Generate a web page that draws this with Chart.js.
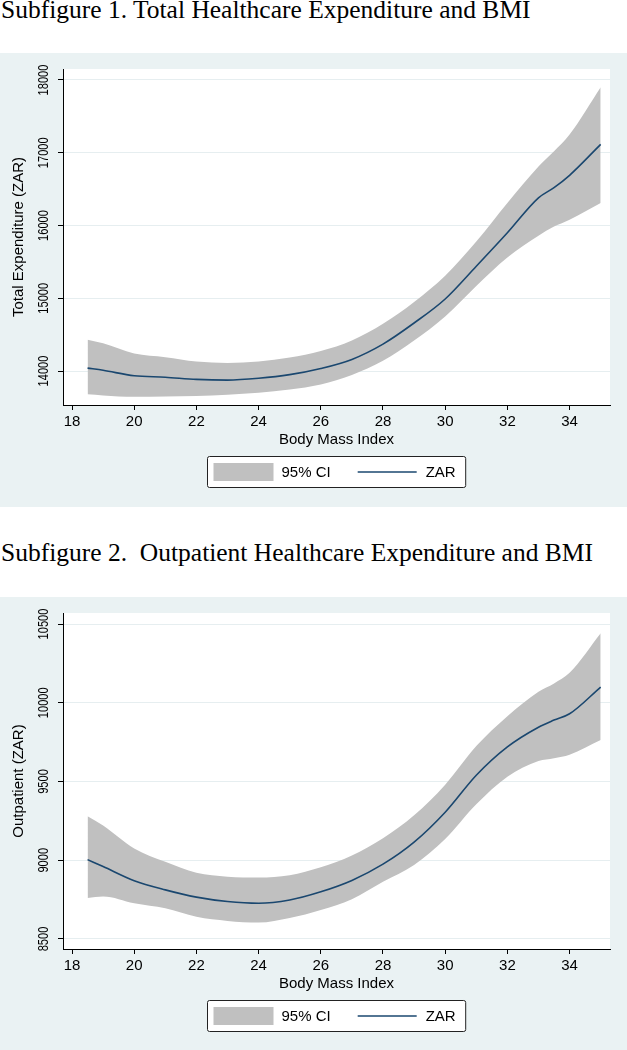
<!DOCTYPE html>
<html>
<head>
<meta charset="utf-8">
<script src="https://cdn.jsdelivr.net/npm/chart.js@4.4.1/dist/chart.umd.min.js"></script>
<style>
body { margin: 0; background: #fff; width: 627px; height: 1050px; position: relative; overflow: hidden; }
.cap { position: absolute; left: 1px; font-family: "Liberation Serif", "Times New Roman", serif; font-size: 25.5px; line-height: 25px; white-space: pre; color: #000; }
.panel { position: absolute; left: 0; width: 627px; background: #eaf2f3; }
canvas { display: block; }
</style>
</head>
<body>
<div class="cap" style="top:-3px">Subfigure 1. Total Healthcare Expenditure and BMI</div>
<div class="panel" style="top:53px;height:454px"><canvas id="g_total" width="627" height="454"></canvas></div>
<div class="cap" style="top:540px">Subfigure 2.  Outpatient Healthcare Expenditure and BMI</div>
<div class="panel" style="top:597px;height:453px"><canvas id="g_outpatient" width="627" height="453"></canvas></div>
<script>
// body mass index grid
const bmi = [18.5, 19, 20, 21, 22, 23, 24, 25, 26, 27, 28, 29, 30, 31, 32, 33, 33.5, 34, 35];

// subfigure 1: total expenditure
const totalZar   = [14040, 14010, 13935, 13915, 13885, 13875, 13900, 13950, 14035, 14160, 14370, 14660, 14990, 15440, 15900, 16380, 16520, 16690, 17115];
const totalLower = [13680, 13665, 13645, 13650, 13655, 13675, 13700, 13745, 13815, 13945, 14140, 14420, 14750, 15170, 15560, 15860, 15985, 16080, 16310];
const totalUpper = [14430, 14380, 14240, 14190, 14130, 14110, 14130, 14185, 14275, 14420, 14650, 14950, 15310, 15780, 16310, 16810, 17020, 17250, 17900];

// subfigure 2: outpatient expenditure
const outZar   = [9004, 8960, 8870, 8812, 8766, 8738, 8727, 8748, 8800, 8872, 8975, 9115, 9305, 9540, 9720, 9845, 9890, 9930, 10100];
const outLower = [8760, 8770, 8727, 8695, 8641, 8615, 8604, 8633, 8684, 8753, 8864, 8970, 9135, 9355, 9530, 9630, 9648, 9670, 9763];
const outUpper = [9280, 9220, 9075, 8990, 8920, 8895, 8890, 8905, 8955, 9030, 9140, 9285, 9480, 9725, 9915, 10070, 10123, 10190, 10441];

const xTicks = [18, 20, 22, 24, 26, 28, 30, 32, 34];
const totalTicks = [14000, 15000, 16000, 17000, 18000];
const outTicks = [8500, 9000, 9500, 10000, 10500];
const legendLabels = ['95% CI', 'ZAR'];

const lineColor = '#1a476f';
const bandColor = '#c0c0c0';
const sans = '"Liberation Sans", Arial, sans-serif';

Chart.defaults.font.family = sans;
Chart.defaults.font.size = 15;
Chart.defaults.color = '#000';

// white plot region
const plotBg = {
    id: 'plotBg',
    beforeDraw(chart) {
        const a = chart.chartArea, ctx = chart.ctx;
        ctx.save();
        ctx.fillStyle = '#fff';
        ctx.fillRect(a.left, a.top, a.right - a.left, a.bottom - a.top);
        ctx.restore();
    }
};

// vertical y tick labels, stata style
const yLabels = {
    id: 'yLabels',
    afterDraw(chart) {
        const s = chart.scales.y, ctx = chart.ctx;
        ctx.save();
        ctx.font = '15px ' + sans;
        ctx.fillStyle = '#000';
        ctx.textAlign = 'center';
        ctx.textBaseline = 'middle';
        s.ticks.forEach(t => {
            ctx.save();
            ctx.translate(44, s.getPixelForValue(t.value));
            ctx.rotate(-Math.PI / 2);
            ctx.scale(0.74, 1);
            ctx.fillText(String(t.value), 0, 0);
            ctx.restore();
        });
        ctx.restore();
    }
};

// boxed legend under the axis title
const boxLegend = {
    id: 'boxLegend',
    afterDraw(chart) {
        const ctx = chart.ctx, a = chart.chartArea, x = chart.scales.x;
        ctx.save();
        ctx.font = '15px ' + sans;
        const w1 = ctx.measureText(legendLabels[0]).width;
        const w2 = ctx.measureText(legendLabels[1]).width;
        const boxW = 6 + 60 + 8 + w1 + 27 + 59 + 9 + w2 + 10;
        const boxH = 31;
        const left = Math.round((a.left + a.right) / 2 - boxW / 2) + 0.5;
        const top = Math.round(x.bottom + 7) + 0.5;
        const mid = top + boxH / 2;
        ctx.fillStyle = '#fff';
        ctx.strokeStyle = '#222';
        ctx.lineWidth = 1;
        ctx.beginPath();
        ctx.roundRect(left, top, boxW, boxH, 2);
        ctx.fill();
        ctx.stroke();
        ctx.fillStyle = bandColor;
        ctx.fillRect(left + 6, mid - 9, 60, 18);
        ctx.fillStyle = '#000';
        ctx.textBaseline = 'middle';
        ctx.fillText(legendLabels[0], left + 74, mid + 1);
        const lx = left + 74 + w1 + 27;
        ctx.strokeStyle = lineColor;
        ctx.lineWidth = 1.5;
        ctx.beginPath();
        ctx.moveTo(lx, mid);
        ctx.lineTo(lx + 59, mid);
        ctx.stroke();
        ctx.fillText(legendLabels[1], lx + 59 + 9, mid + 1);
        ctx.restore();
    }
};

function tbody (_id, _line, _lower, _upper, _ytitle, _yticks, _ymin, _ymax, _padBottom) {
    const pts = (ys) => bmi.map((b, i) => ({x: b, y: ys[i]}));
    const _config = {
        type: 'line',
        data: {
            datasets: [
                {label: legendLabels[1], data: pts(_line), borderColor: lineColor, borderWidth: 1.6,
                 pointRadius: 0, cubicInterpolationMode: 'monotone', fill: false, order: 0},
                {label: legendLabels[0], data: pts(_upper), borderColor: 'rgba(0,0,0,0)', borderWidth: 0,
                 backgroundColor: bandColor, pointRadius: 0, cubicInterpolationMode: 'monotone', fill: '+1', order: 1},
                {label: 'lower', data: pts(_lower), borderColor: 'rgba(0,0,0,0)', borderWidth: 0,
                 pointRadius: 0, cubicInterpolationMode: 'monotone', fill: false, order: 2}
            ]
        },
        options: {
            responsive: false,
            animation: false,
            devicePixelRatio: 1,
            layout: {padding: {top: 16, right: 17, bottom: _padBottom, left: 0}},
            plugins: {legend: {display: false}, tooltip: {enabled: false}},
            scales: {
                x: {
                    type: 'linear', min: 17.71, max: 35.3,
                    afterBuildTicks: (s) => { s.ticks = xTicks.map(v => ({value: v})); },
                    afterFit: (s) => { s.height = 44; },
                    grid: {drawOnChartArea: false, drawTicks: true, tickLength: 5, tickColor: '#000'},
                    border: {display: true, color: '#000', width: 1},
                    ticks: {padding: 3, maxRotation: 0, autoSkip: false, color: '#000', font: {size: 15}},
                    title: {display: true, text: 'Body Mass Index', padding: 0, color: '#000', font: {size: 15}}
                },
                y: {
                    type: 'linear', min: _ymin, max: _ymax,
                    afterBuildTicks: (s) => { s.ticks = _yticks.map(v => ({value: v})); },
                    afterFit: (s) => { s.width = 63; },
                    grid: {color: '#e6eef0', tickColor: '#000', tickLength: 5, drawTicks: true},
                    border: {display: true, color: '#000', width: 1},
                    ticks: {display: false},
                    title: {display: true, text: _ytitle, padding: {top: 10, bottom: 0}, color: '#000', font: {size: 15}}
                }
            }
        },
        plugins: [plotBg, yLabels, boxLegend]
    };
    const id = document.getElementById(_id).getContext('2d');
    const _table = new Chart(id, _config);
}

tbody('g_total', totalZar, totalLower, totalUpper, 'Total Expenditure (ZAR)', totalTicks, 13533, 18151, 58);
tbody('g_outpatient', outZar, outLower, outUpper, 'Outpatient (ZAR)', outTicks, 8436.5, 10570, 57);
</script>
</body>
</html>
